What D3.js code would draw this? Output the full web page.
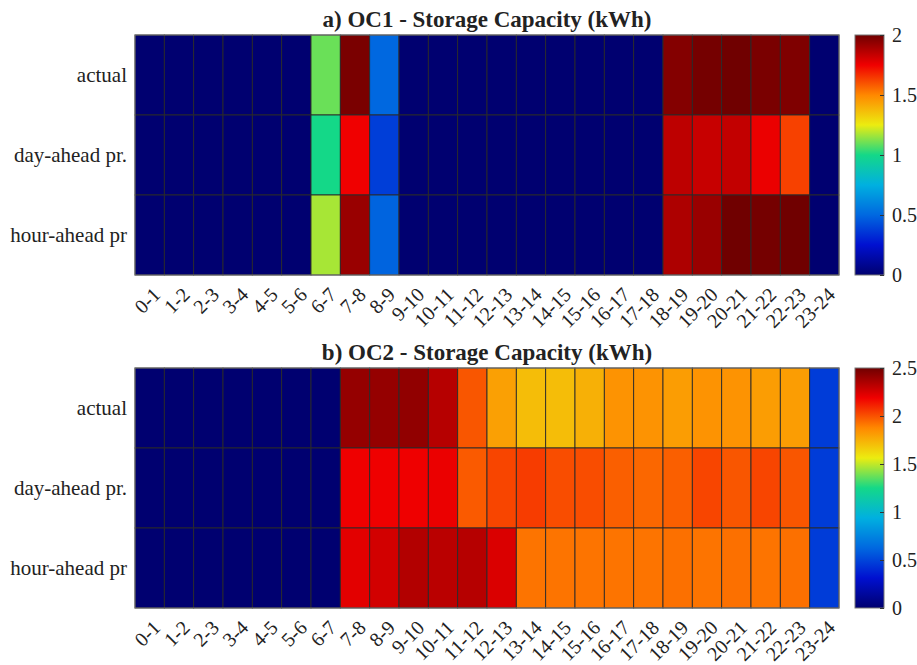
<!DOCTYPE html>
<html>
<head>
<meta charset="utf-8">
<script src="https://cdn.jsdelivr.net/npm/d3@7"></script>
<style>
  body { margin: 0; background: #fff; }
  svg text { font-family: "Liberation Serif", "Times New Roman", serif; fill: #222; }
</style>
</head>
<body>
<svg id="dessin" width="917" height="665"></svg>
<script>
// tick labels / categories
const hours = ["0-1","1-2","2-3","3-4","4-5","5-6","6-7","7-8","8-9","9-10","10-11","11-12",
  "12-13","13-14","14-15","15-16","16-17","17-18","18-19","19-20","20-21","21-22","22-23","23-24"];
const rows = ["actual", "day-ahead pr.", "hour-ahead pr"];

// OC1 storage capacity (kWh)
const oc1Actual    = [0,0,0,0,0,0,1.10,1.98,0.50,0,0,0,0,0,0,0,0,0,1.96,1.99,2.00,1.98,1.97,0];
const oc1DayAhead  = [0,0,0,0,0,0,1.00,1.75,0.38,0,0,0,0,0,0,0,0,0,1.85,1.83,1.84,1.76,1.63,0];
const oc1HourAhead = [0,0,0,0,0,0,1.17,1.92,0.49,0,0,0,0,0,0,0,0,0,1.88,1.92,2.00,1.99,2.00,0];

// OC2 storage capacity (kWh)
const oc2Actual    = [0,0,0,0,0,0,0,2.41,2.41,2.42,2.33,1.99,1.80,1.71,1.71,1.75,1.84,1.84,1.81,1.84,1.84,1.81,1.81,0.47];
const oc2DayAhead  = [0,0,0,0,0,0,0,2.19,2.19,2.19,2.20,1.98,2.03,2.05,2.01,2.01,1.97,1.95,1.97,2.03,1.99,2.03,1.99,0.47];
const oc2HourAhead = [0,0,0,0,0,0,0,2.22,2.26,2.34,2.32,2.33,2.24,1.92,1.92,1.92,1.92,1.92,1.93,1.92,1.93,1.92,1.93,0.47];

const cbTicksA = [0, 0.5, 1, 1.5, 2];
const cbTicksB = [0, 0.5, 1, 1.5, 2, 2.5];

// jet-like colour stops, as they look in the printed figure
const jetStops = [0, 0.125, 0.25, 0.375, 0.5, 0.625, 0.75, 0.875, 1];
const jetColors = ["#000070", "#0010d0", "#0068e0", "#00b0e0", "#14d888", "#ecec10", "#ff8800", "#f00000", "#700000"];
const jet = d3.scaleLinear().domain(jetStops).range(jetColors).interpolate(d3.interpolateRgb).clamp(true);

const svg = d3.select("#dessin");
const defs = svg.append("defs");
const x = d3.scaleBand().domain(hours).range([135, 839]);

function panel(top, title, series, vmax, cbTicks, gradId) {
  const y = d3.scaleBand().domain(rows).range([top, top + 240]);
  const color = d3.scaleSequential(jet).domain([0, vmax]);
  const g = svg.append("g");

  const cells = [];
  series.forEach((vals, r) => vals.forEach((v, i) => cells.push({row: rows[r], hour: hours[i], v})));

  g.selectAll("rect.cell")
    .data(cells)
    .enter()
    .append("rect")
    .attr("class", "cell")
    .attr("x", d => x(d.hour))
    .attr("y", d => y(d.row))
    .attr("width", x.bandwidth())
    .attr("height", y.bandwidth())
    .style("fill", d => color(d.v))
    .style("stroke", "#2a2a2a")
    .style("stroke-width", 0.9);

  g.append("rect")
    .attr("x", 135).attr("y", top).attr("width", 704).attr("height", 240)
    .style("fill", "none").style("stroke", "#777").style("stroke-width", 1);

  // row labels
  g.selectAll("text.row")
    .data(rows)
    .enter()
    .append("text")
    .attr("x", 127)
    .attr("y", d => y(d) + y.bandwidth()/2)
    .attr("dy", "0.35em")
    .attr("text-anchor", "end")
    .style("font-size", "21px")
    .text(d => d);

  // rotated hour labels
  g.selectAll("text.hour")
    .data(hours)
    .enter()
    .append("text")
    .attr("text-anchor", "end")
    .attr("transform", d => `translate(${x(d) + x.bandwidth()/2 + 12},${top + 261}) rotate(-45)`)
    .style("font-size", "20px")
    .text(d => d);

  // title
  g.append("text")
    .attr("x", 487)
    .attr("y", top - 8)
    .attr("text-anchor", "middle")
    .style("font-size", "23px")
    .style("font-weight", "bold")
    .text(title);

  // colorbar
  const cy = d3.scaleLinear().domain([0, vmax]).range([top + 240, top]);
  const grad = defs.append("linearGradient")
    .attr("id", gradId).attr("x1", 0).attr("y1", 1).attr("x2", 0).attr("y2", 0);
  grad.selectAll("stop")
    .data(jetStops)
    .enter()
    .append("stop")
    .attr("offset", d => d)
    .attr("stop-color", (d, i) => jetColors[i]);
  g.append("rect")
    .attr("x", 855).attr("y", top).attr("width", 29).attr("height", 240)
    .style("fill", `url(#${gradId})`)
    .style("stroke", "#777").style("stroke-width", 1);

  const axis = d3.axisRight(cy).tickValues(cbTicks).tickSize(-4).tickPadding(8).tickFormat(d3.format("~g"));
  const ax = g.append("g").attr("transform", "translate(884,0)").call(axis);
  ax.select(".domain").remove();
  ax.selectAll("line").style("stroke", "#333");
  ax.selectAll("text").style("font-size", "20px").style("font-family", "Liberation Serif, serif").attr("fill", "#222");
}

panel(35, "a) OC1 - Storage Capacity (kWh)", [oc1Actual, oc1DayAhead, oc1HourAhead], 2, cbTicksA, "jetA");
panel(368, "b) OC2 - Storage Capacity (kWh)", [oc2Actual, oc2DayAhead, oc2HourAhead], 2.5, cbTicksB, "jetB");
</script>
</body>
</html>
